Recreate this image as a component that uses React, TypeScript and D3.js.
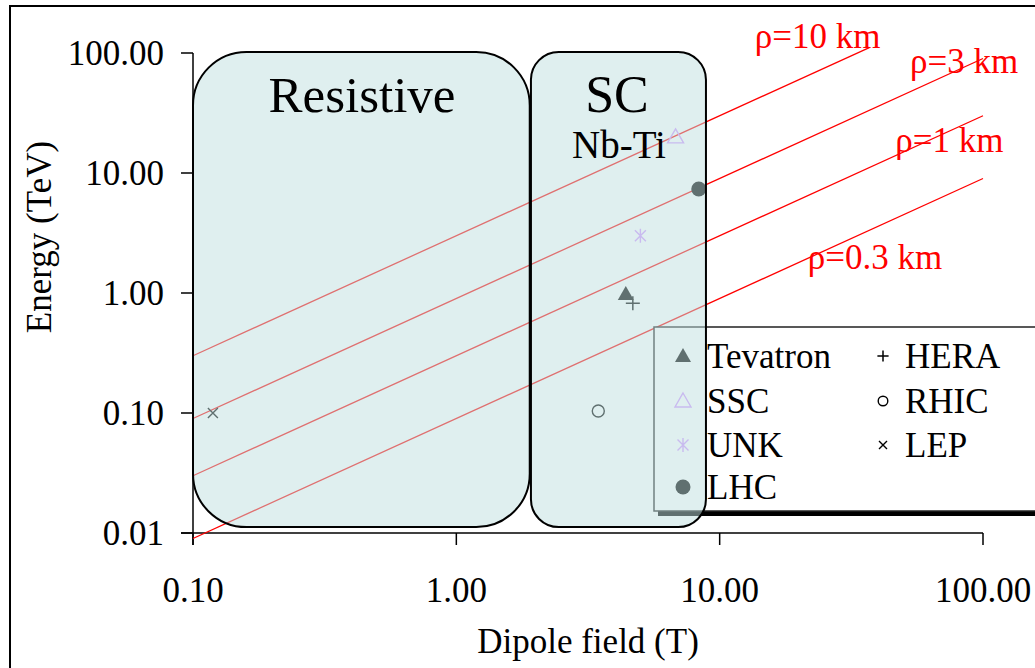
import React from "react";
import * as d3 from "d3";

// ---------- data ----------
const machines = ["Tevatron", "SSC", "UNK", "LHC", "HERA", "RHIC", "LEP"];
const fieldT = [4.4, 6.8, 5.0, 8.33, 4.68, 3.46, 0.119];
const energyTeV = [0.98, 20, 3, 7.35, 0.82, 0.104, 0.1];
const markerKind = ["triFill", "triOpen", "asterisk", "circFill", "plus", "circOpen", "cross"];
const markerColor = ["#000", "#D296FF", "#D296FF", "#000", "#000", "#000", "#000"];

const rhoKm = [10, 3, 1, 0.3];
const rhoBmin = [0.1, 0.1, 0.1, 0.1];
const rhoBmax = [37, 100, 100, 100];
const rhoLabelB = [13.6, 52.8, 46.4, 21.6];
const rhoLabelE = [110, 68, 15.0, 1.58];

const xTicks = [0.1, 1, 10, 100];
const yTicks = [0.01, 0.1, 1, 10, 100];

const regions = ["Resistive", "SC"];
const regionB0 = [0.1, 1.92];
const regionB1 = [1.9, 8.87];
const regionE0 = [0.0112, 0.0112];
const regionE1 = [102, 102];

const W = 1035;
const H = 668;
const FONT = "'Liberation Serif', 'Times New Roman', serif";

const x = d3.scaleLog().domain([0.1, 100]).range([193, 983]);
const y = d3.scaleLog().domain([0.01, 100]).range([533, 53]);

function Marker({ kind, cx, cy, color, s = 1 }: any) {
  const t = `translate(${cx},${cy})`;
  if (kind === "triFill" || kind === "triOpen") {
    const p = `M0,${-8 * s} L${8 * s},${6 * s} L${-8 * s},${6 * s} Z`;
    return kind === "triFill" ? (
      <path transform={t} d={p} fill={color} />
    ) : (
      <path transform={t} d={p} fill="none" stroke={color} strokeWidth={1.4} />
    );
  }
  if (kind === "circFill") return <circle cx={cx} cy={cy} r={7.5 * s} fill={color} />;
  if (kind === "circOpen")
    return <circle cx={cx} cy={cy} r={6 * s} fill="none" stroke={color} strokeWidth={1.4} />;
  if (kind === "plus") {
    const a = 7 * s;
    return <path transform={t} d={`M${-a},0H${a}M0,${-a}V${a}`} stroke={color} strokeWidth={1.5} />;
  }
  if (kind === "cross") {
    const a = 5 * s;
    return (
      <path transform={t} d={`M${-a},${-a}L${a},${a}M${a},${-a}L${-a},${a}`} stroke={color} strokeWidth={1.4} />
    );
  }
  // asterisk
  const a = 7 * s;
  const b = 5.5 * s;
  return (
    <path
      transform={t}
      d={`M0,${-a}V${a}M${-b},${-b}L${b},${b}M${b},${-b}L${-b},${b}`}
      stroke={color}
      strokeWidth={1.4}
    />
  );
}

export default function App() {
  const line = d3
    .line<number>()
    .x((b) => x(b))
    .y((b) => b);

  const legendCol = [0, 0, 0, 0, 1, 1, 1];
  const legendRow = [0, 1, 2, 3, 0, 1, 2];
  const legX = [683, 883];
  const legY = [356, 401, 445, 487];

  return (
    <svg
      width={W}
      height={H}
      style={{ position: "absolute", left: 0, top: 0, background: "#fff" }}
      fontFamily={FONT}
    >
      <rect x={0} y={0} width={W} height={H} fill="#fff" />
      {/* outer frame */}
      <rect x={10} y={6} width={1200} height={800} fill="none" stroke="#000" strokeWidth={2} />

      {/* axes */}
      <g stroke="#000" strokeWidth={1.5} fill="none">
        <line x1={x(0.1)} x2={x(0.1)} y1={y(100)} y2={y(0.01) + 12} />
        <line x1={x(0.1) - 12} x2={x(100)} y1={y(0.01)} y2={y(0.01)} />
        {yTicks.map((t) => (
          <line key={"yt" + t} x1={x(0.1) - 12} x2={x(0.1)} y1={y(t)} y2={y(t)} />
        ))}
        {xTicks.map((t) => (
          <line key={"xt" + t} x1={x(t)} x2={x(t)} y1={y(0.01)} y2={y(0.01) + 12} />
        ))}
      </g>
      <g fontSize={35} fill="#000">
        {yTicks.map((t) => (
          <text key={"yl" + t} x={164} y={y(t) + 12} textAnchor="end">
            {t.toFixed(2)}
          </text>
        ))}
        {xTicks.map((t) => (
          <text key={"xl" + t} x={x(t)} y={602} textAnchor="middle">
            {t.toFixed(2)}
          </text>
        ))}
        <text x={588} y={653} textAnchor="middle">
          Dipole field (T)
        </text>
        <text transform="translate(51,237) rotate(-90)" textAnchor="middle">
          Energy (TeV)
        </text>
      </g>

      {/* rho lines */}
      {rhoKm.map((r, i) => {
        const bs = [rhoBmin[i], rhoBmax[i]];
        const d = d3
          .line<number>()
          .x((b) => x(b))
          .y((b) => y(0.3 * b * r))(bs);
        return <path key={"rho" + r} d={d || ""} stroke="#FF0000" strokeWidth={1.3} fill="none" />;
      })}

      {/* data markers */}
      {machines.map((m, i) => (
        <Marker key={m} kind={markerKind[i]} cx={x(fieldT[i])} cy={y(energyTeV[i])} color={markerColor[i]} />
      ))}

      {/* legend */}
      <rect x={658} y={332} width={420} height={184} fill="#000" />
      <rect x={654} y={327} width={420} height={184} fill="#fff" stroke="#222" strokeWidth={1.5} />
      {machines.map((m, i) => (
        <g key={"lg" + m}>
          <Marker
            kind={markerKind[i]}
            cx={legX[legendCol[i]]}
            cy={legY[legendRow[i]]}
            color={markerColor[i]}
            s={legendCol[i] === 1 ? 0.8 : 1}
          />
          <text x={legendCol[i] === 0 ? 707 : 905} y={legY[legendRow[i]] + 12} fontSize={35} fill="#000">
            {m}
          </text>
        </g>
      ))}

      {/* technology regions (semi-transparent) */}
      {regions.map((rg, i) => {
        const x0 = x(regionB0[i]);
        const x1 = x(regionB1[i]);
        const y0 = y(regionE1[i]);
        const y1 = y(regionE0[i]);
        const rr = (x1 - x0) / 6.3;
        return (
          <rect
            key={rg}
            x={x0}
            y={y0}
            width={x1 - x0}
            height={y1 - y0}
            rx={rr}
            ry={rr}
            fill="rgba(192,224,224,0.5)"
            stroke="#000"
            strokeWidth={2}
          />
        );
      })}
      <text x={362} y={112} fontSize={51} textAnchor="middle" fill="#000">
        Resistive
      </text>
      <text x={617} y={112} fontSize={52} textAnchor="middle" fill="#000">
        SC
      </text>
      <text x={619} y={158} fontSize={39} textAnchor="middle" fill="#000">
        Nb-Ti
      </text>

      {/* rho labels */}
      {rhoKm.map((r, i) => (
        <text key={"rl" + r} x={x(rhoLabelB[i])} y={y(rhoLabelE[i])} fontSize={35} fill="#FF0000">
          {`ρ=${r} km`}
        </text>
      ))}
    </svg>
  );
}
